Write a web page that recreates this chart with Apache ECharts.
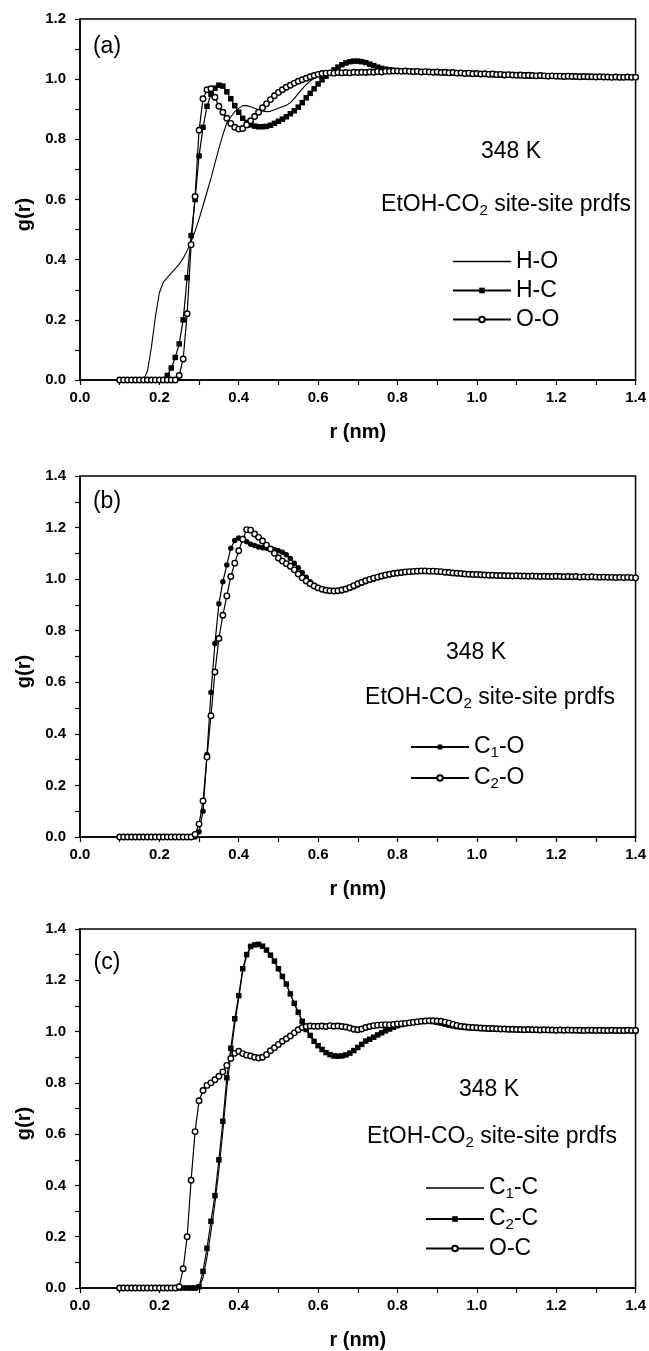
<!DOCTYPE html>
<html>
<head>
<meta charset="utf-8">
<script src="https://cdn.jsdelivr.net/npm/echarts@6/dist/echarts.min.js"></script>
<style>
html,body{margin:0;padding:0;background:#fff;}
#chart{width:649px;height:1351px;}
</style>
</head>
<body>
<div id="chart"></div>
<script>
// r grid (nm), shared by all panels
const R = [
0.10,0.11,0.12,0.13,0.14,0.15,0.16,0.17,0.18,0.19,
0.20,0.21,0.22,0.23,0.24,0.25,0.26,0.27,0.28,0.29,
0.30,0.31,0.32,0.33,0.34,0.35,0.36,0.37,0.38,0.39,
0.40,0.41,0.42,0.43,0.44,0.45,0.46,0.47,0.48,0.49,
0.50,0.51,0.52,0.53,0.54,0.55,0.56,0.57,0.58,0.59,
0.60,0.61,0.62,0.63,0.64,0.65,0.66,0.67,0.68,0.69,
0.70,0.71,0.72,0.73,0.74,0.75,0.76,0.77,0.78,0.79,
0.80,0.81,0.82,0.83,0.84,0.85,0.86,0.87,0.88,0.89,
0.90,0.91,0.92,0.93,0.94,0.95,0.96,0.97,0.98,0.99,
1.00,1.01,1.02,1.03,1.04,1.05,1.06,1.07,1.08,1.09,
1.10,1.11,1.12,1.13,1.14,1.15,1.16,1.17,1.18,1.19,
1.20,1.21,1.22,1.23,1.24,1.25,1.26,1.27,1.28,1.29,
1.30,1.31,1.32,1.33,1.34,1.35,1.36,1.37,1.38,1.39,
1.40];

// Panel (a)
const gHO = [
0,0,0,0,0,0,0,0.03,0.11,0.21,
0.29,0.325,0.34,0.355,0.37,0.385,0.405,0.43,0.46,0.495,
0.535,0.58,0.625,0.67,0.72,0.77,0.815,0.855,0.875,0.892,
0.903,0.912,0.912,0.908,0.903,0.898,0.894,0.892,0.893,0.898,
0.903,0.908,0.913,0.922,0.936,0.952,0.968,0.982,0.994,1.003,
1.01,1.014,1.016,1.017,1.016,1.018,1.017,1.019,1.018,1.02,
1.019,1.021,1.02,1.022,1.021,1.023,1.022,1.024,1.025,1.026,
1.027,1.026,1.027,1.025,1.026,1.024,1.025,1.023,1.025,1.022,
1.023,1.021,1.022,1.020,1.022,1.019,1.020,1.018,1.019,1.017,
1.018,1.016,1.017,1.015,1.016,1.015,1.014,1.015,1.013,1.014,
1.013,1.012,1.013,1.012,1.011,1.012,1.011,1.010,1.011,1.010,
1.011,1.009,1.010,1.009,1.010,1.009,1.008,1.009,1.008,1.009,
1.008,1.007,1.008,1.007,1.008,1.007,1.006,1.007,1.006,1.007,
1.006];
const gHC = [
0,0,0,0,0,0,0,0,0,0,
0,0,0.015,0.04,0.075,0.12,0.20,0.34,0.48,0.60,
0.745,0.84,0.91,0.95,0.97,0.98,0.977,0.958,0.935,0.912,
0.89,0.87,0.856,0.848,0.844,0.842,0.842,0.843,0.847,0.853,
0.86,0.867,0.875,0.885,0.895,0.907,0.922,0.938,0.953,0.968,
0.984,0.998,1.01,1.021,1.031,1.04,1.048,1.054,1.058,1.06,
1.06,1.058,1.055,1.05,1.045,1.04,1.036,1.033,1.031,1.029,
1.028,1.028,1.026,1.027,1.025,1.026,1.024,1.025,1.023,1.024,
1.022,1.023,1.021,1.022,1.020,1.021,1.019,1.020,1.018,1.019,
1.017,1.018,1.016,1.017,1.015,1.016,1.014,1.015,1.014,1.013,
1.014,1.012,1.013,1.011,1.012,1.011,1.012,1.010,1.011,1.010,
1.011,1.009,1.010,1.009,1.010,1.008,1.009,1.008,1.009,1.008,
1.007,1.008,1.007,1.008,1.006,1.007,1.006,1.007,1.006,1.007,
1.006];
const gOO = [
0,0,0,0,0,0,0,0,0,0,
0,0,0,0,0,0.015,0.07,0.22,0.45,0.61,
0.83,0.935,0.965,0.968,0.94,0.91,0.89,0.87,0.853,0.84,
0.834,0.836,0.848,0.862,0.876,0.89,0.905,0.918,0.932,0.945,
0.956,0.965,0.973,0.98,0.987,0.993,0.998,1.003,1.008,1.012,
1.016,1.019,1.02,1.021,1.02,1.022,1.021,1.022,1.021,1.023,
1.022,1.023,1.022,1.024,1.023,1.025,1.024,1.026,1.026,1.027,
1.027,1.026,1.027,1.026,1.025,1.026,1.024,1.025,1.024,1.023,
1.024,1.022,1.023,1.021,1.022,1.020,1.021,1.019,1.020,1.018,
1.019,1.017,1.018,1.016,1.017,1.015,1.016,1.014,1.015,1.014,
1.013,1.014,1.012,1.013,1.012,1.011,1.012,1.011,1.010,1.011,
1.010,1.010,1.009,1.010,1.009,1.009,1.008,1.009,1.008,1.008,
1.007,1.008,1.007,1.007,1.006,1.007,1.006,1.006,1.007,1.006,
1.006];

// Panel (b)
const gC1O = [
0,0,0,0,0,0,0,0,0,0,
0,0,0,0,0,0,0,0,0,0,
0.02,0.10,0.32,0.56,0.75,0.905,0.99,1.055,1.12,1.15,
1.16,1.158,1.145,1.135,1.13,1.125,1.122,1.12,1.117,1.114,
1.11,1.104,1.095,1.08,1.062,1.044,1.025,1.007,0.99,0.977,
0.968,0.962,0.958,0.955,0.953,0.953,0.955,0.959,0.964,0.97,
0.977,0.984,0.99,0.995,1.0,1.005,1.009,1.013,1.017,1.02,
1.022,1.024,1.026,1.028,1.029,1.030,1.031,1.031,1.031,1.030,
1.029,1.028,1.027,1.025,1.024,1.022,1.021,1.020,1.019,1.018,
1.017,1.016,1.016,1.015,1.014,1.014,1.013,1.013,1.013,1.012,
1.012,1.012,1.011,1.012,1.011,1.011,1.011,1.010,1.011,1.010,
1.010,1.010,1.009,1.010,1.009,1.009,1.009,1.008,1.009,1.008,
1.008,1.008,1.007,1.008,1.007,1.007,1.007,1.006,1.007,1.006,
1.006];
const gC2O = [
0,0,0,0,0,0,0,0,0,0,
0,0,0,0,0,0,0,0,0,0.01,
0.05,0.14,0.31,0.47,0.64,0.77,0.86,0.935,1.01,1.062,
1.11,1.155,1.192,1.19,1.175,1.162,1.148,1.132,1.117,1.1,
1.082,1.07,1.06,1.05,1.036,1.02,1.005,0.993,0.982,0.973,
0.966,0.961,0.957,0.955,0.954,0.955,0.958,0.962,0.968,0.975,
0.982,0.988,0.994,0.999,1.004,1.008,1.012,1.016,1.019,1.022,
1.024,1.026,1.028,1.029,1.030,1.031,1.032,1.032,1.031,1.031,
1.030,1.029,1.027,1.026,1.024,1.023,1.022,1.020,1.019,1.018,
1.018,1.017,1.016,1.015,1.015,1.014,1.014,1.013,1.013,1.012,
1.013,1.012,1.012,1.011,1.012,1.011,1.010,1.011,1.010,1.010,
1.011,1.010,1.009,1.010,1.009,1.010,1.008,1.009,1.008,1.009,
1.008,1.007,1.008,1.007,1.007,1.006,1.007,1.006,1.007,1.006,
1.005];

// Panel (c)
const gC1C = [
0,0,0,0,0,0,0,0,0,0,
0,0,0,0,0,0,0,0,0,0,
0,0.04,0.12,0.22,0.33,0.46,0.61,0.78,0.91,1.03,
1.13,1.235,1.295,1.328,1.337,1.339,1.332,1.317,1.296,1.272,
1.243,1.213,1.183,1.146,1.108,1.073,1.04,1.008,0.984,0.962,
0.945,0.93,0.918,0.91,0.905,0.904,0.905,0.909,0.916,0.926,
0.938,0.95,0.962,0.97,0.978,0.987,0.995,1.003,1.01,1.017,
1.023,1.027,1.031,1.034,1.037,1.039,1.04,1.041,1.04,1.038,
1.035,1.032,1.028,1.025,1.022,1.02,1.018,1.017,1.015,1.014,
1.013,1.012,1.012,1.011,1.010,1.010,1.009,1.009,1.008,1.008,
1.008,1.007,1.007,1.007,1.006,1.006,1.007,1.006,1.006,1.005,
1.006,1.005,1.005,1.006,1.005,1.005,1.004,1.005,1.005,1.004,
1.005,1.004,1.004,1.005,1.004,1.004,1.005,1.004,1.004,1.004,
1.004];
const gC2C = [
0,0,0,0,0,0,0,0,0,0,
0,0,0,0,0,0,0,0,0,0,
0.005,0.065,0.155,0.26,0.36,0.50,0.65,0.82,0.935,1.05,
1.14,1.245,1.30,1.332,1.338,1.34,1.333,1.318,1.298,1.275,
1.245,1.215,1.185,1.147,1.11,1.075,1.04,1.008,0.985,0.962,
0.945,0.93,0.918,0.91,0.905,0.904,0.905,0.909,0.916,0.926,
0.938,0.95,0.963,0.97,0.978,0.987,0.995,1.003,1.01,1.017,
1.023,1.027,1.031,1.034,1.037,1.039,1.04,1.041,1.041,1.039,
1.036,1.033,1.029,1.025,1.022,1.019,1.018,1.016,1.015,1.014,
1.013,1.012,1.012,1.011,1.010,1.010,1.009,1.009,1.008,1.008,
1.008,1.007,1.007,1.007,1.006,1.006,1.007,1.006,1.006,1.005,
1.006,1.005,1.005,1.006,1.005,1.005,1.004,1.005,1.005,1.004,
1.005,1.004,1.004,1.005,1.004,1.004,1.005,1.004,1.004,1.004,
1.004];
const gOC = [
0,0,0,0,0,0,0,0,0,0,
0,0,0,0,0,0.005,0.075,0.20,0.42,0.61,
0.73,0.77,0.79,0.80,0.812,0.826,0.843,0.868,0.895,0.915,
0.923,0.914,0.908,0.905,0.9,0.897,0.9,0.91,0.925,0.937,
0.95,0.962,0.972,0.983,0.995,1.007,1.016,1.02,1.022,1.021,
1.021,1.022,1.02,1.023,1.021,1.022,1.02,1.018,1.014,1.009,
1.007,1.01,1.016,1.02,1.023,1.025,1.026,1.027,1.026,1.028,
1.03,1.031,1.032,1.034,1.036,1.038,1.04,1.041,1.042,1.042,
1.041,1.04,1.037,1.033,1.028,1.024,1.021,1.019,1.017,1.016,
1.015,1.014,1.013,1.012,1.012,1.011,1.010,1.010,1.009,1.009,
1.008,1.008,1.007,1.008,1.007,1.007,1.006,1.007,1.006,1.006,
1.005,1.006,1.005,1.006,1.005,1.005,1.005,1.004,1.005,1.005,
1.004,1.005,1.004,1.004,1.005,1.004,1.004,1.004,1.005,1.004,
1.004];

const X_TICKS = ['0.0','0.2','0.4','0.6','0.8','1.0','1.2','1.4'];
const PANEL_LABELS = ['(a)','(b)','(c)'];
const TEMP_LABEL = '348 K';
const Y_MAX = [1.2, 1.4, 1.4];

const FONT = "'Liberation Sans', Arial, Helvetica, sans-serif";
const pairs = g => R.map((r, i) => [r, g[i]]);

const chart = echarts.init(document.getElementById('chart'), null, {renderer: 'canvas'});

const GRID_TOPS = [19, 476, 929];
const grids = GRID_TOPS.map(t => ({
  left: 80, width: 560, top: t, height: 361,
  show: true, borderColor: '#000', borderWidth: 1.5, backgroundColor: 'transparent'
}));

const xAxes = [0,1,2].map(i => ({
  gridIndex: i, type: 'value', min: 0, max: 1.4, interval: 0.2,
  axisLine: {onZero: false, lineStyle: {color: '#000', width: 1.5}},
  axisTick: {show: true, inside: false, length: 5, lineStyle: {color: '#000', width: 1.2}},
  minorTick: {show: true, splitNumber: 2, length: 5, lineStyle: {color: '#000', width: 1.2}},
  splitLine: {show: false},
  axisLabel: {color: '#000', fontFamily: FONT, fontWeight: 'bold', fontSize: 15, margin: 10,
    formatter: v => X_TICKS[Math.round(v / 0.2)] },
  name: 'r (nm)', nameLocation: 'middle', nameGap: 42,
  nameTextStyle: {color: '#000', fontFamily: FONT, fontWeight: 'bold', fontSize: 20}
}));

const yAxes = [0,1,2].map(i => ({
  gridIndex: i, type: 'value', min: 0, max: Y_MAX[i], interval: 0.2,
  axisLine: {onZero: false, lineStyle: {color: '#000', width: 1.5}},
  axisTick: {show: true, inside: false, length: 5, lineStyle: {color: '#000', width: 1.2}},
  minorTick: {show: true, splitNumber: 2, length: 5, lineStyle: {color: '#000', width: 1.2}},
  splitLine: {show: false},
  axisLabel: {color: '#000', fontFamily: FONT, fontWeight: 'bold', fontSize: 15, margin: 14,
    formatter: v => v.toFixed(1)},
  name: 'g(r)', nameLocation: 'middle', nameGap: 40,
  nameTextStyle: {color: '#000', fontFamily: FONT, fontWeight: 'bold', fontSize: 20, padding: [0, 30, 0, 0]}
}));

function lineSeries(name, g, idx) {
  return {name, type: 'line', xAxisIndex: idx, yAxisIndex: idx, data: pairs(g),
    symbol: 'none', lineStyle: {color: '#000', width: 1.1}, itemStyle: {color: '#000'},
    animation: false, silent: true};
}
function filledSeries(name, g, idx, shape) {
  return {name, type: 'line', xAxisIndex: idx, yAxisIndex: idx, data: pairs(g),
    symbol: shape, symbolSize: 5.5, showSymbol: true,
    lineStyle: {color: '#000', width: 1.2}, itemStyle: {color: '#000', borderColor: '#000', borderWidth: 0},
    animation: false, silent: true};
}
function openSeries(name, g, idx) {
  return {name, type: 'line', xAxisIndex: idx, yAxisIndex: idx, data: pairs(g),
    symbol: 'circle', symbolSize: 5.5, showSymbol: true,
    lineStyle: {color: '#000', width: 1.2}, itemStyle: {color: '#fff', borderColor: '#000', borderWidth: 1.4},
    animation: false, silent: true};
}

const series = [
  lineSeries('H-O', gHO, 0),
  filledSeries('H-C', gHC, 0, 'rect'),
  openSeries('O-O', gOO, 0),
  filledSeries('C1-O', gC1O, 1, 'circle'),
  openSeries('C2-O', gC2O, 1),
  lineSeries('C1-C', gC1C, 2),
  filledSeries('C2-C', gC2C, 2, 'rect'),
  openSeries('O-C', gOC, 2)
];

const RICH = {
  n: {fontSize: 23, fontFamily: FONT, color: '#000', lineHeight: 26},
  s: {fontSize: 15, fontFamily: FONT, color: '#000', lineHeight: 26, padding: [11, 0, 0, 0]}
};
const LEGEND_TEXT = {
  'H-O': '{n|H-O}', 'H-C': '{n|H-C}', 'O-O': '{n|O-O}',
  'C1-O': '{n|C}{s|1}{n|-O}', 'C2-O': '{n|C}{s|2}{n|-O}',
  'C1-C': '{n|C}{s|1}{n|-C}', 'C2-C': '{n|C}{s|2}{n|-C}', 'O-C': '{n|O-C}'
};
const LINE_ICON = 'path://M0,0H60V1.6H0Z';
function legend(items, left, top, gap) {
  return {
    orient: 'vertical', left, top, itemWidth: 58, itemHeight: 7, itemGap: gap,
    selectedMode: false, padding: 0,
    data: items.map(n => (n === 'H-O' || n === 'C1-C') ? {name: n, icon: LINE_ICON} : {name: n}),
    formatter: name => LEGEND_TEXT[name],
    textStyle: {color: '#000', fontFamily: FONT, fontSize: 23, rich: RICH}
  };
}

function txt(x, y, text, size) {
  return {type: 'text', x, y, silent: true,
    style: {text, fill: '#000', fontFamily: FONT, fontSize: size || 23, align: 'center', verticalAlign: 'middle', rich: RICH}};
}
const ETOH = '{n|EtOH-CO}{s|2}{n| site-site prdfs}';

chart.setOption({
  animation: false,
  backgroundColor: '#fff',
  grid: grids,
  xAxis: xAxes,
  yAxis: yAxes,
  series,
  legend: [
    legend(['H-O','H-C','O-O'], 452, 250, 6),
    legend(['C1-O','C2-O'], 410, 734, 5),
    legend(['C1-C','C2-C','O-C'], 425, 1175, 5)
  ],
  graphic: [
    txt(107, 47, PANEL_LABELS[0]),
    txt(511, 152, TEMP_LABEL),
    txt(506, 205, ETOH),
    txt(107, 502, PANEL_LABELS[1]),
    txt(476, 653, TEMP_LABEL),
    txt(490, 698, ETOH),
    txt(107, 963, PANEL_LABELS[2]),
    txt(489, 1090, TEMP_LABEL),
    txt(492, 1137, ETOH)
  ]
});
</script>
</body>
</html>
